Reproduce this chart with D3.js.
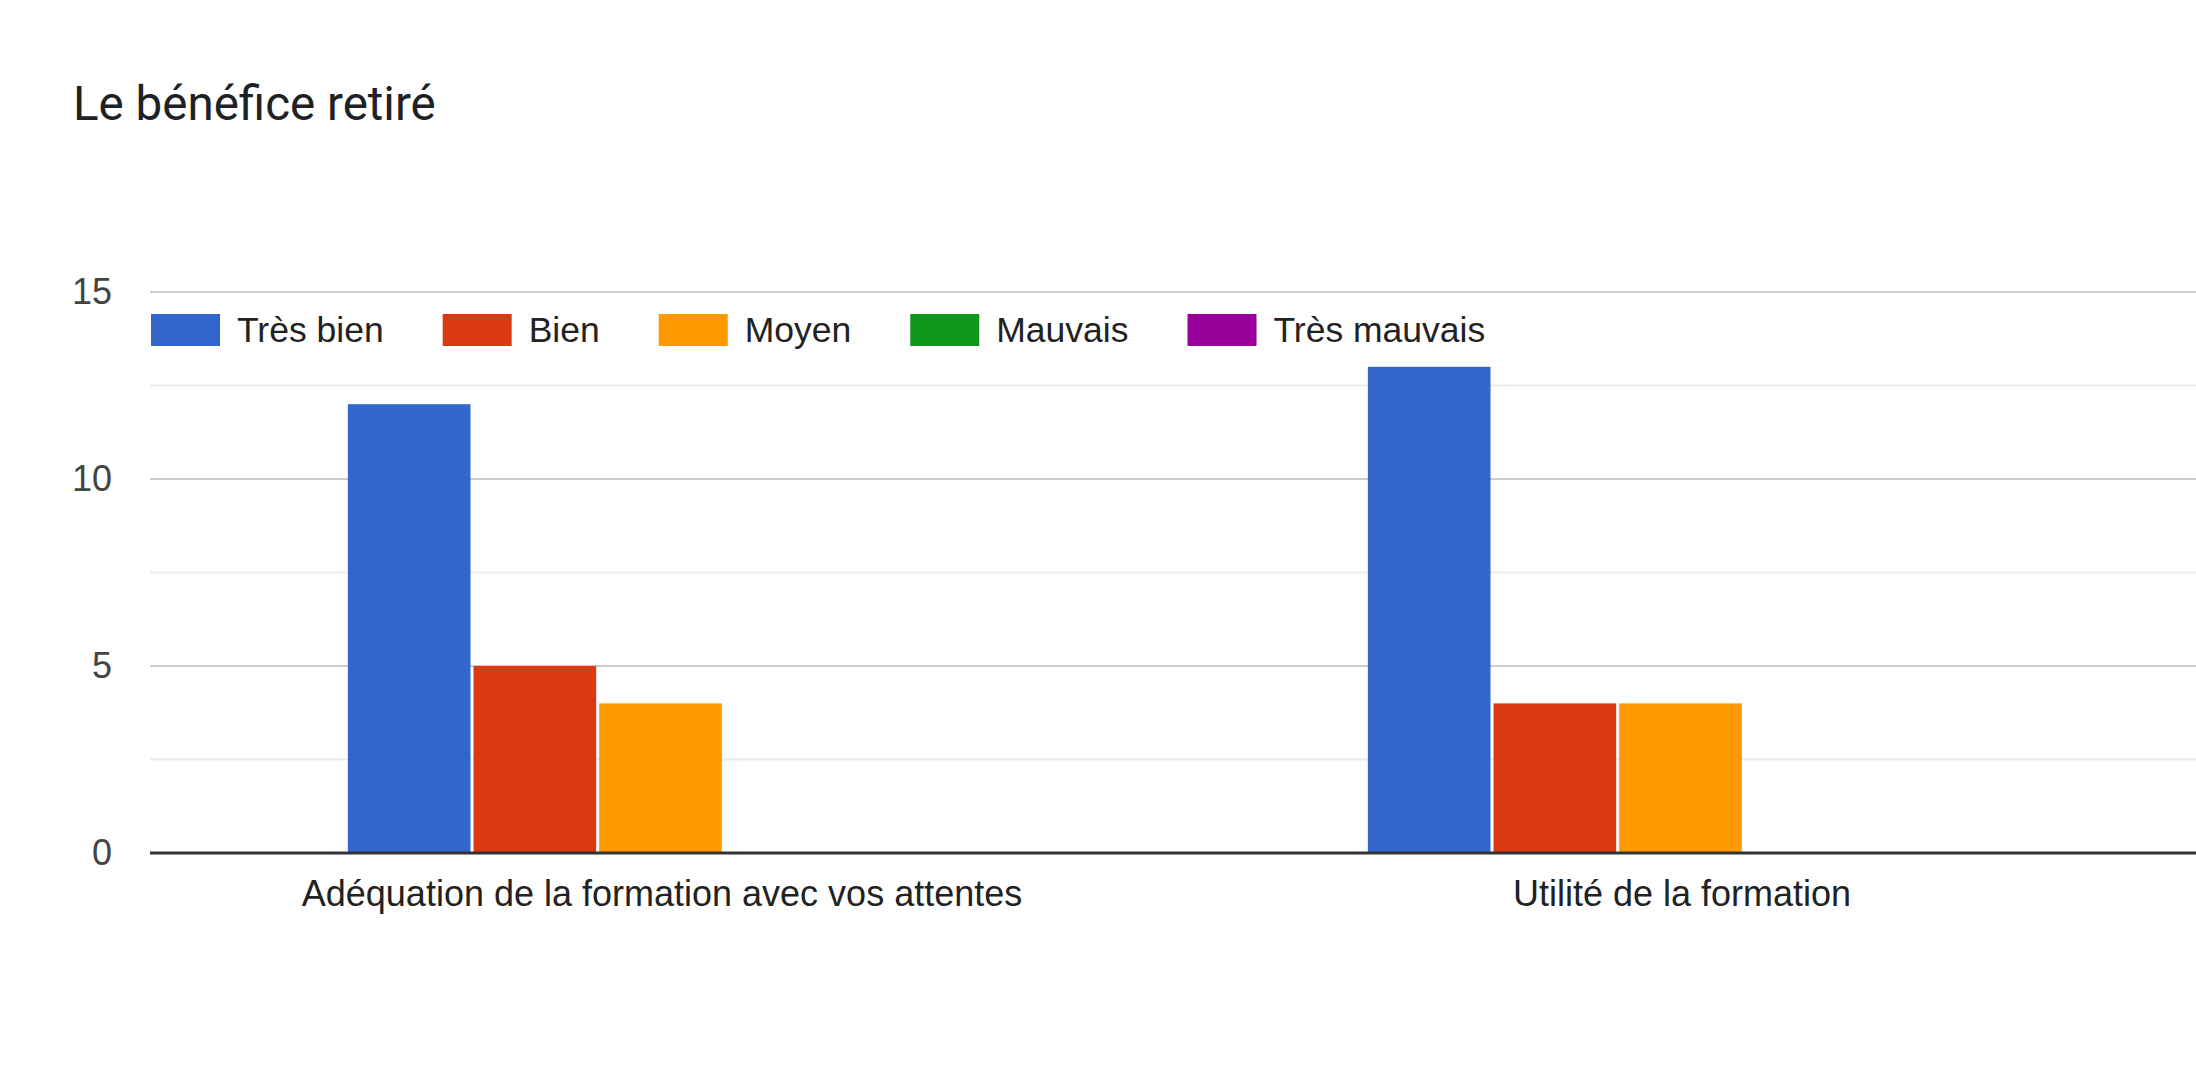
<!DOCTYPE html>
<html>
<head>
<meta charset="utf-8">
<script src="https://cdn.jsdelivr.net/npm/d3@7"></script>
<style>
  html, body { margin: 0; padding: 0; background: #fff; }
  svg { display: block; }
</style>
</head>
<body>
<div id="chart"></div>
<script>
const title = "Le bénéfice retiré";
const categories = ["Adéquation de la formation avec vos attentes", "Utilité de la formation"];
const seriesNames = ["Très bien", "Bien", "Moyen", "Mauvais", "Très mauvais"];
const seriesColors = ["#3366cc", "#dc3912", "#ff9900", "#109618", "#990099"];
// values[serie][categorie]
const values = [
  [12, 13],
  [5, 4],
  [4, 4],
  [0, 0],
  [0, 0]
];
const majorTicks = [0, 5, 10, 15];
const minorTicks = [2.5, 7.5, 12.5];

const width = 2196;
const height = 1074;
const margin = { top: 292, right: 4, bottom: 221, left: 152 };
const innerWidth = width - margin.left - margin.right;
const innerHeight = height - margin.top - margin.bottom;

const svg = d3.select('#chart')
  .append('svg')
  .attr('width', width)
  .attr('height', height);

// titre
svg.append('text')
  .attr('x', 73)
  .attr('y', 120)
  .attr('fill', '#202124')
  .attr('font-family', 'Roboto, Arial, sans-serif')
  .attr('font-size', '47.5px')
  .text(title);

const g = svg.append('g')
  .attr('transform', `translate(${margin.left},${margin.top})`);

// SCALES
const x0 = d3.scaleBand()
  .domain(categories)
  .range([0, innerWidth])
  .paddingInner(0.384)
  .paddingOuter(0.192);

const x1 = d3.scaleBand()
  .domain(seriesNames)
  .range([0, x0.bandwidth()]);

const y = d3.scaleLinear()
  .domain([0, 15])
  .range([innerHeight, 0]);

const color = d3.scaleOrdinal().domain(seriesNames).range(seriesColors);

// GRID
g.append('g')
  .selectAll('line')
  .data(minorTicks)
  .join('line')
  .attr('x1', -2).attr('x2', innerWidth + margin.right)
  .attr('y1', d => y(d)).attr('y2', d => y(d))
  .attr('stroke', '#ebebeb')
  .attr('stroke-width', 2);

g.append('g')
  .selectAll('line')
  .data(majorTicks.filter(d => d > 0))
  .join('line')
  .attr('x1', -2).attr('x2', innerWidth + margin.right)
  .attr('y1', d => y(d)).attr('y2', d => y(d))
  .attr('stroke', '#cccccc')
  .attr('stroke-width', 2);

// y labels
g.append('g')
  .call(d3.axisLeft(y).tickValues(majorTicks).tickSize(0).tickPadding(40))
  .call(a => a.select('.domain').remove())
  .selectAll('text')
  .attr('fill', '#444')
  .attr('font-family', 'Arial, "Liberation Sans", sans-serif')
  .attr('font-size', '36px');

// BARS
const groups = g.selectAll('.grp')
  .data(categories)
  .join('g')
  .attr('class', 'grp')
  .attr('transform', d => `translate(${x0(d)},0)`);

groups.selectAll('rect')
  .data((c, ci) => seriesNames.map((s, si) => ({ s, v: values[si][ci] })))
  .join('rect')
  .attr('x', d => x1(d.s))
  .attr('width', x1.bandwidth() - 3)
  .attr('y', d => y(d.v))
  .attr('height', d => y(0) - y(d.v))
  .attr('fill', d => color(d.s));

// baseline
g.append('line')
  .attr('x1', -2).attr('x2', innerWidth + margin.right)
  .attr('y1', y(0)).attr('y2', y(0))
  .attr('stroke', '#333')
  .attr('stroke-width', 3);

// x labels
g.append('g')
  .attr('transform', `translate(0,${innerHeight})`)
  .call(d3.axisBottom(x0).tickSize(0).tickPadding(27))
  .call(a => a.select('.domain').remove())
  .selectAll('text')
  .attr('fill', '#222')
  .attr('font-family', 'Arial, "Liberation Sans", sans-serif')
  .attr('font-size', '36px');

// LEGEND
const legend = svg.append('g')
  .attr('transform', 'translate(151,314)');
let lx = 0;
seriesNames.forEach((s, i) => {
  const item = legend.append('g').attr('transform', `translate(${lx},0)`);
  item.append('rect')
    .attr('width', 69)
    .attr('height', 32)
    .attr('fill', color(s));
  const t = item.append('text')
    .attr('x', 86)
    .attr('y', 16)
    .attr('dy', '0.35em')
    .attr('fill', '#222')
    .attr('font-family', 'Arial, "Liberation Sans", sans-serif')
    .attr('font-size', '35.5px')
    .text(s);
  lx += 86 + t.node().getComputedTextLength() + 59;
});
</script>
</body>
</html>
